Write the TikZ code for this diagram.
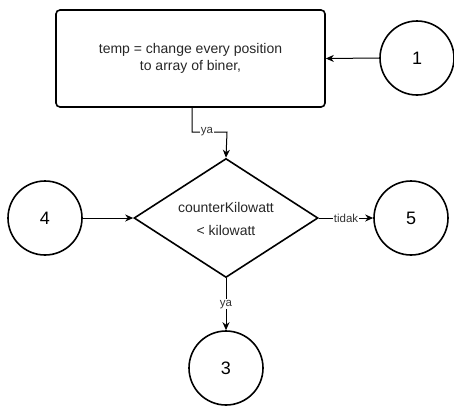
\documentclass[tikz,border=0pt]{standalone}
\usepackage{fontspec}
\setmainfont{Liberation Sans}
\usetikzlibrary{arrows.meta,shapes.geometric}
\begin{document}
\begin{tikzpicture}[x=1pt,y=-1pt,
  shapeline/.style={draw=black,line width=1.6pt},
  conn/.style={draw=black,line width=1pt,-{Stealth[length=8pt,width=7pt,inset=2.5pt]}},
  lbl/.style={fill=white,inner sep=0.5pt,font=\fontsize{11.5}{13}\selectfont,text=black!80},
  circ/.style={shapeline,circle,minimum size=74pt,inner sep=0pt,font=\fontsize{18}{20}\selectfont},
  txt/.style={font=\fontsize{14}{17}\selectfont,text=black!85}]
\useasboundingbox (0,0) rectangle (454,405);
\node[shapeline,rounded corners=4pt,minimum width=269pt,minimum height=97pt,inner sep=0pt,
  txt,align=center] (box) at (190.5,58.5) {temp = change every position\\to array of biner,};
\node[circ] (c1) at (417,58) {1};
\node[shapeline,diamond,minimum width=184pt,minimum height=119pt,inner sep=0pt,aspect=1.55] (dec) at (226,218) {};
\node[txt] (dt1) at (226,207) {counterKilowatt};
\node[txt] (dt2) at (226,230) {< kilowatt};
\node[circ] (c4) at (45,218) {4};
\node[circ] (c5) at (411,218) {5};
\node[circ] (c3) at (226,368) {3};
\coordinate (b1) at (192,107);
\coordinate (k1) at (192,132);
\coordinate (k2) at (227,132);
\draw[conn] (c1.west) -- (box.east);
\draw[conn] (b1) -- (k1) -- (k2) -- (dec.north);
\node[lbl] (ya1) at (207,132) {ya};
\draw[conn] (c4.east) -- (dec.west);
\draw[conn] (dec.east) -- (c5.west) node[lbl,pos=0.5] (td) {tidak};
\draw[conn] (dec.south) -- (c3.north) node[lbl,pos=0.5] (ya2) {ya};
\end{tikzpicture}
\end{document}
